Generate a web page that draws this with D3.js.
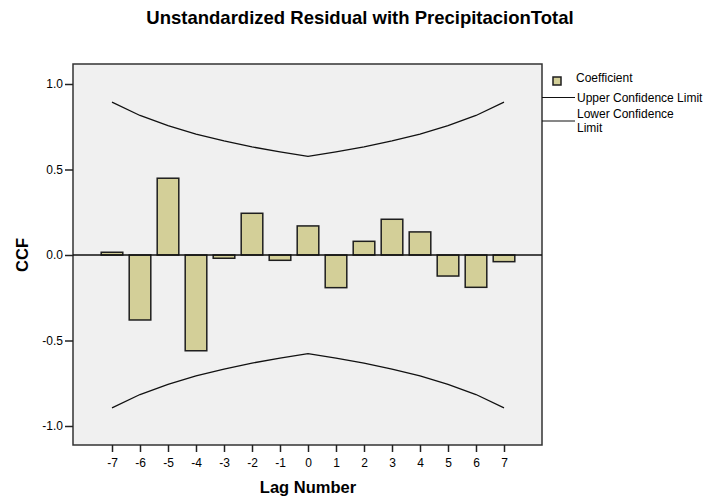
<!DOCTYPE html>
<html lang="en">
  <head>
    <meta charset="UTF-8" />
    <title>CCF</title>
    <style>
      body { margin: 0; background: #fff; }
      text { font-family: "Liberation Sans", Arial, sans-serif; fill: #000; }
    </style>
  </head>
  <body>
    <svg id="svg" width="706" height="497"></svg>

    <script src="https://d3js.org/d3.v7.min.js"></script>
    <script>
      const lags = [-7, -6, -5, -4, -3, -2, -1, 0, 1, 2, 3, 4, 5, 6, 7];
      const coefficient = [0.016, -0.38, 0.449, -0.56, -0.019, 0.244, -0.031, 0.17,
        -0.191, 0.08, 0.209, 0.135, -0.123, -0.189, -0.039];
      const upperLimit = [0.894, 0.816, 0.756, 0.707, 0.667, 0.632, 0.603, 0.577,
        0.603, 0.632, 0.667, 0.707, 0.756, 0.816, 0.894];
      const lowerLimit = [-0.894, -0.816, -0.756, -0.707, -0.667, -0.632, -0.603, -0.577,
        -0.603, -0.632, -0.667, -0.707, -0.756, -0.816, -0.894];
      const yTicks = [-1.0, -0.5, 0.0, 0.5, 1.0];

      const svg = d3.select("#svg");

      const frame = { left: 73, right: 542, top: 64, bottom: 445 };

      // scales
      const xScale = d3.scaleLinear().domain([-7, 7]).range([112, 504]);
      const yScale = d3.scaleLinear().domain([-1, 1]).range([426, 84]);
      const barW = 21.6;

      // title
      svg.append("text")
        .attr("x", 360)
        .attr("y", 24)
        .attr("text-anchor", "middle")
        .style("font-size", "18.5px")
        .style("font-weight", "bold")
        .text("Unstandardized Residual with PrecipitacionTotal");

      // plot frame
      svg.append("rect")
        .attr("x", frame.left)
        .attr("y", frame.top)
        .attr("width", frame.right - frame.left)
        .attr("height", frame.bottom - frame.top)
        .attr("fill", "#f0f0f0")
        .attr("stroke", "#333")
        .attr("stroke-width", 1.5);

      // y axis
      const yAxis = svg.append("g")
        .attr("transform", `translate(${frame.left},0)`)
        .call(d3.axisLeft(yScale).tickValues(yTicks).tickFormat((d) => d.toFixed(1)).tickSize(8).tickPadding(2));
      yAxis.select(".domain").remove();
      yAxis.selectAll("line").attr("stroke", "#222").attr("stroke-width", 1.5);
      yAxis.selectAll("text")
        .style("font-family", '"Liberation Sans", Arial, sans-serif')
        .style("font-size", "12px")
        .attr("fill", "#222");

      // x axis
      const xAxis = svg.append("g")
        .attr("transform", `translate(0,${frame.bottom})`)
        .call(d3.axisBottom(xScale).tickValues(lags).tickFormat((d) => String(d)).tickSize(7).tickPadding(6));
      xAxis.select(".domain").remove();
      xAxis.selectAll("line").attr("stroke", "#222").attr("stroke-width", 1.5);
      xAxis.selectAll("text")
        .style("font-family", '"Liberation Sans", Arial, sans-serif')
        .style("font-size", "12px")
        .attr("fill", "#222");

      // axis titles
      svg.append("text")
        .attr("x", 308)
        .attr("y", 493)
        .attr("text-anchor", "middle")
        .style("font-size", "16.5px")
        .style("font-weight", "bold")
        .text("Lag Number");

      svg.append("text")
        .attr("transform", `translate(28,255) rotate(-90)`)
        .attr("text-anchor", "middle")
        .style("font-size", "16.5px")
        .style("font-weight", "bold")
        .text("CCF");

      // bars
      svg.append("g")
        .selectAll("rect")
        .data(lags)
        .enter()
        .append("rect")
        .attr("x", (d) => xScale(d) - barW / 2)
        .attr("y", (d, i) => Math.min(yScale(coefficient[i]), yScale(0)))
        .attr("width", barW)
        .attr("height", (d, i) => Math.abs(yScale(coefficient[i]) - yScale(0)))
        .attr("fill", "#d3cf98")
        .attr("stroke", "#1e1e1e")
        .attr("stroke-width", 1.5);

      // zero line
      svg.append("line")
        .attr("x1", frame.left)
        .attr("x2", frame.right)
        .attr("y1", yScale(0))
        .attr("y2", yScale(0))
        .attr("stroke", "#111")
        .attr("stroke-width", 1.5);

      // confidence limits
      const line = d3.line()
        .x((d) => xScale(d[0]))
        .y((d) => yScale(d[1]));

      [upperLimit, lowerLimit].forEach((limit) => {
        svg.append("path")
          .datum(lags.map((l, i) => [l, limit[i]]))
          .attr("d", line)
          .attr("fill", "none")
          .attr("stroke", "#111")
          .attr("stroke-width", 1.3);
      });

      // legend
      const legend = svg.append("g");
      legend.append("rect")
        .attr("x", 553)
        .attr("y", 77)
        .attr("width", 8)
        .attr("height", 8)
        .attr("fill", "#d3cf98")
        .attr("stroke", "#1e1e1e")
        .attr("stroke-width", 1.5);
      legend.append("text")
        .attr("x", 576)
        .attr("y", 82)
        .style("font-size", "12px")
        .text("Coefficient");

      legend.append("line")
        .attr("x1", frame.right).attr("x2", 575)
        .attr("y1", 97.5).attr("y2", 97.5)
        .attr("stroke", "#111").attr("stroke-width", 1.2);
      legend.append("text")
        .attr("x", 577)
        .attr("y", 102)
        .style("font-size", "12px")
        .text("Upper Confidence Limit");

      legend.append("line")
        .attr("x1", frame.right).attr("x2", 575)
        .attr("y1", 121).attr("y2", 121)
        .attr("stroke", "#111").attr("stroke-width", 1.2);
      legend.append("text")
        .attr("x", 577)
        .attr("y", 118)
        .style("font-size", "12px")
        .text("Lower Confidence");
      legend.append("text")
        .attr("x", 577)
        .attr("y", 132)
        .style("font-size", "12px")
        .text("Limit");
    </script>
  </body>
</html>
